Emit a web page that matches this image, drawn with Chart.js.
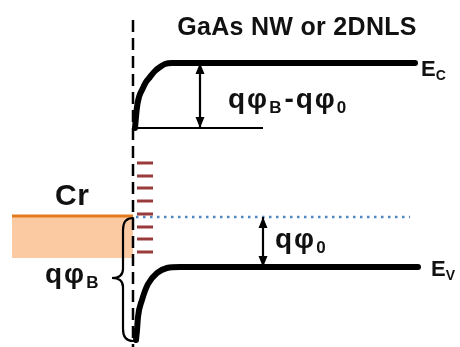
<!DOCTYPE html>
<html>
<head>
<meta charset="utf-8">
<script src="https://cdn.jsdelivr.net/npm/chart.js@4.4.1/dist/chart.umd.min.js"></script>
<style>
  html, body { margin: 0; padding: 0; background: #fff; }
  #wrap { width: 460px; height: 347px; }
</style>
</head>
<body>
<div id="wrap"><canvas id="band"></canvas></div>
<script>
// band diagram: x = position, y = energy (drawn downwards)
const ecX = [135, 137, 139, 142, 146, 150, 155, 160, 165, 172, 415];
const ecY = [128, 107, 97, 90, 82, 77, 71, 67, 64, 63, 63];
const evX = [136, 137, 138, 142, 148, 157, 167, 180, 418];
const evY = [340, 330, 317, 300, 284, 273, 268, 267, 267];

const pinnedX = [135, 263];          // thin line at the pinned Ec edge
const pinnedY = 128;
const metalX = [12, 133];            // Cr Fermi level and filled band
const metalFermiY = 216;
const metalBottomY = 258;
const semiFermiX = [136, 410];       // Fermi level in the semiconductor
const semiFermiY = 217;
const interfaceX = 133;
const interfaceY = [20, 347];
const statesX = 145;                 // interface states
const statesY = [163, 176, 188, 201, 214, 227, 239, 252];

const arrowBarrierX = 200;
const arrowBarrierY = [63, 128];
const arrowFermiX = 263;
const arrowFermiY = [217, 267];

const braceX = [133, 123, 112];      // ends, spine, tip
const braceY = [218, 278, 341];      // top, tip, bottom

// labels: [text, isSubscript] pieces
const labels = [
  { parts: [['GaAs NW or 2DNLS', 0]], x: 297, y: 35, size: 25, align: 'center', gap: 0.3 },
  { parts: [['E', 0], ['C', 1]], x: 421, y: 76, size: 22, gap: 0 },
  { parts: [['E', 0], ['V', 1]], x: 431, y: 276, size: 22, gap: 0 },
  { parts: [['qφ', 0], ['B', 1], ['-qφ', 0], ['0', 1]], x: 228, y: 108, size: 28, gap: 2 },
  { parts: [['qφ', 0], ['0', 1]], x: 275, y: 248, size: 28, gap: 2 },
  { parts: [['qφ', 0], ['B', 1]], x: 45, y: 283, size: 28, gap: 2 },
  { parts: [['Cr', 0]], x: 55, y: 205, size: 30, gap: 0.5 }
];

const FONT = '"Liberation Sans", Arial, sans-serif';

function pts(xs, ys) {
  return xs.map((x, i) => ({ x: x, y: Array.isArray(ys) ? ys[i] : ys }));
}

const extras = {
  id: 'extras',
  afterDatasetsDraw(chart) {
    const ctx = chart.ctx;
    const sx = chart.scales.x, sy = chart.scales.y;

    // brace
    const x0 = sx.getPixelForValue(braceX[0]);
    const xs = sx.getPixelForValue(braceX[1]);
    const xt = sx.getPixelForValue(braceX[2]);
    const top = sy.getPixelForValue(braceY[0]);
    const yt = sy.getPixelForValue(braceY[1]);
    const bot = sy.getPixelForValue(braceY[2]);
    ctx.save();
    ctx.strokeStyle = '#000';
    ctx.lineWidth = 2.2;
    ctx.lineCap = 'round';
    ctx.beginPath();
    ctx.moveTo(x0, top);
    ctx.quadraticCurveTo(xs, top, xs, top + 12);
    ctx.lineTo(xs, yt - 9);
    ctx.quadraticCurveTo(xs, yt, xt, yt);
    ctx.quadraticCurveTo(xs, yt, xs, yt + 9);
    ctx.lineTo(xs, bot - 12);
    ctx.quadraticCurveTo(xs, bot, x0, bot);
    ctx.stroke();

    // arrowheads
    function head(x, y, dir) {
      const px = sx.getPixelForValue(x), py = sy.getPixelForValue(y);
      ctx.beginPath();
      ctx.moveTo(px, py);
      ctx.lineTo(px - 4.5, py + dir * 11);
      ctx.lineTo(px + 4.5, py + dir * 11);
      ctx.closePath();
      ctx.fillStyle = '#000';
      ctx.fill();
    }
    head(arrowBarrierX, arrowBarrierY[0], 1);
    head(arrowBarrierX, arrowBarrierY[1], -1);
    head(arrowFermiX, arrowFermiY[0], 1);
    head(arrowFermiX, arrowFermiY[1], -1);

    // text
    ctx.fillStyle = '#111';
    ctx.textBaseline = 'alphabetic';
    ctx.textAlign = 'left';
    labels.forEach(l => {
      let x = sx.getPixelForValue(l.x);
      const y = sy.getPixelForValue(l.y);
      const subSize = Math.round(l.size * 0.62);
      ctx.letterSpacing = l.gap + 'px';
      if (l.align === 'center') {
        ctx.font = 'bold ' + l.size + 'px ' + FONT;
        x -= ctx.measureText(l.parts[0][0]).width / 2;
      }
      l.parts.forEach(p => {
        const sub = p[1] === 1;
        ctx.font = 'bold ' + (sub ? subSize : l.size) + 'px ' + FONT;
        ctx.fillText(p[0], x, sub ? y + l.size * 0.18 : y);
        x += ctx.measureText(p[0]).width + (sub ? 1 : 0);
      });
    });
    ctx.restore();
  }
};

function line(data, color, width, extra) {
  return Object.assign({
    data: data,
    showLine: true,
    borderColor: color,
    borderWidth: width,
    pointRadius: 0,
    fill: false,
    clip: false
  }, extra || {});
}

new Chart(document.getElementById('band'), {
  type: 'scatter',
  data: {
    datasets: [
      line(pts(ecX, ecY), '#000', 6, { cubicInterpolationMode: 'monotone', borderCapStyle: 'round', order: 1 }),
      line(pts(evX, evY), '#000', 6, { cubicInterpolationMode: 'monotone', borderCapStyle: 'round', order: 1 }),
      line(pts(pinnedX, pinnedY), '#000', 2, { order: 2 }),
      line(pts([arrowBarrierX, arrowBarrierX], arrowBarrierY), '#000', 2.2, { order: 2 }),
      line(pts([arrowFermiX, arrowFermiX], arrowFermiY), '#000', 2.2, { order: 2 }),
      line(pts([interfaceX, interfaceX], interfaceY), '#000', 2.5, { borderDash: [12, 6], order: 3 }),
      {
        data: pts(statesY.map(() => statesX), statesY),
        pointStyle: 'line',
        pointRadius: 8,
        pointBorderWidth: 3,
        pointBorderColor: '#9a3b3b',
        showLine: false,
        clip: false,
        order: 4
      },
      line(pts(semiFermiX, semiFermiY), '#4f86c6', 2.5, { borderDash: [2.5, 4.5], order: 5 }),
      line(pts(metalX, metalFermiY), '#e47a1e', 3, { order: 6 }),
      line(pts(metalX, metalFermiY), 'rgba(0,0,0,0)', 0, {
        fill: { value: metalBottomY },
        backgroundColor: '#fbcaa2',
        order: 10
      })
    ]
  },
  options: {
    responsive: true,
    maintainAspectRatio: false,
    animation: false,
    layout: { padding: 0, autoPadding: false },
    plugins: { legend: { display: false }, tooltip: { enabled: false } },
    scales: {
      x: { type: 'linear', min: 0, max: 460, display: false },
      y: { type: 'linear', min: 0, max: 347, reverse: true, display: false }
    }
  },
  plugins: [extras]
});
</script>
</body>
</html>
